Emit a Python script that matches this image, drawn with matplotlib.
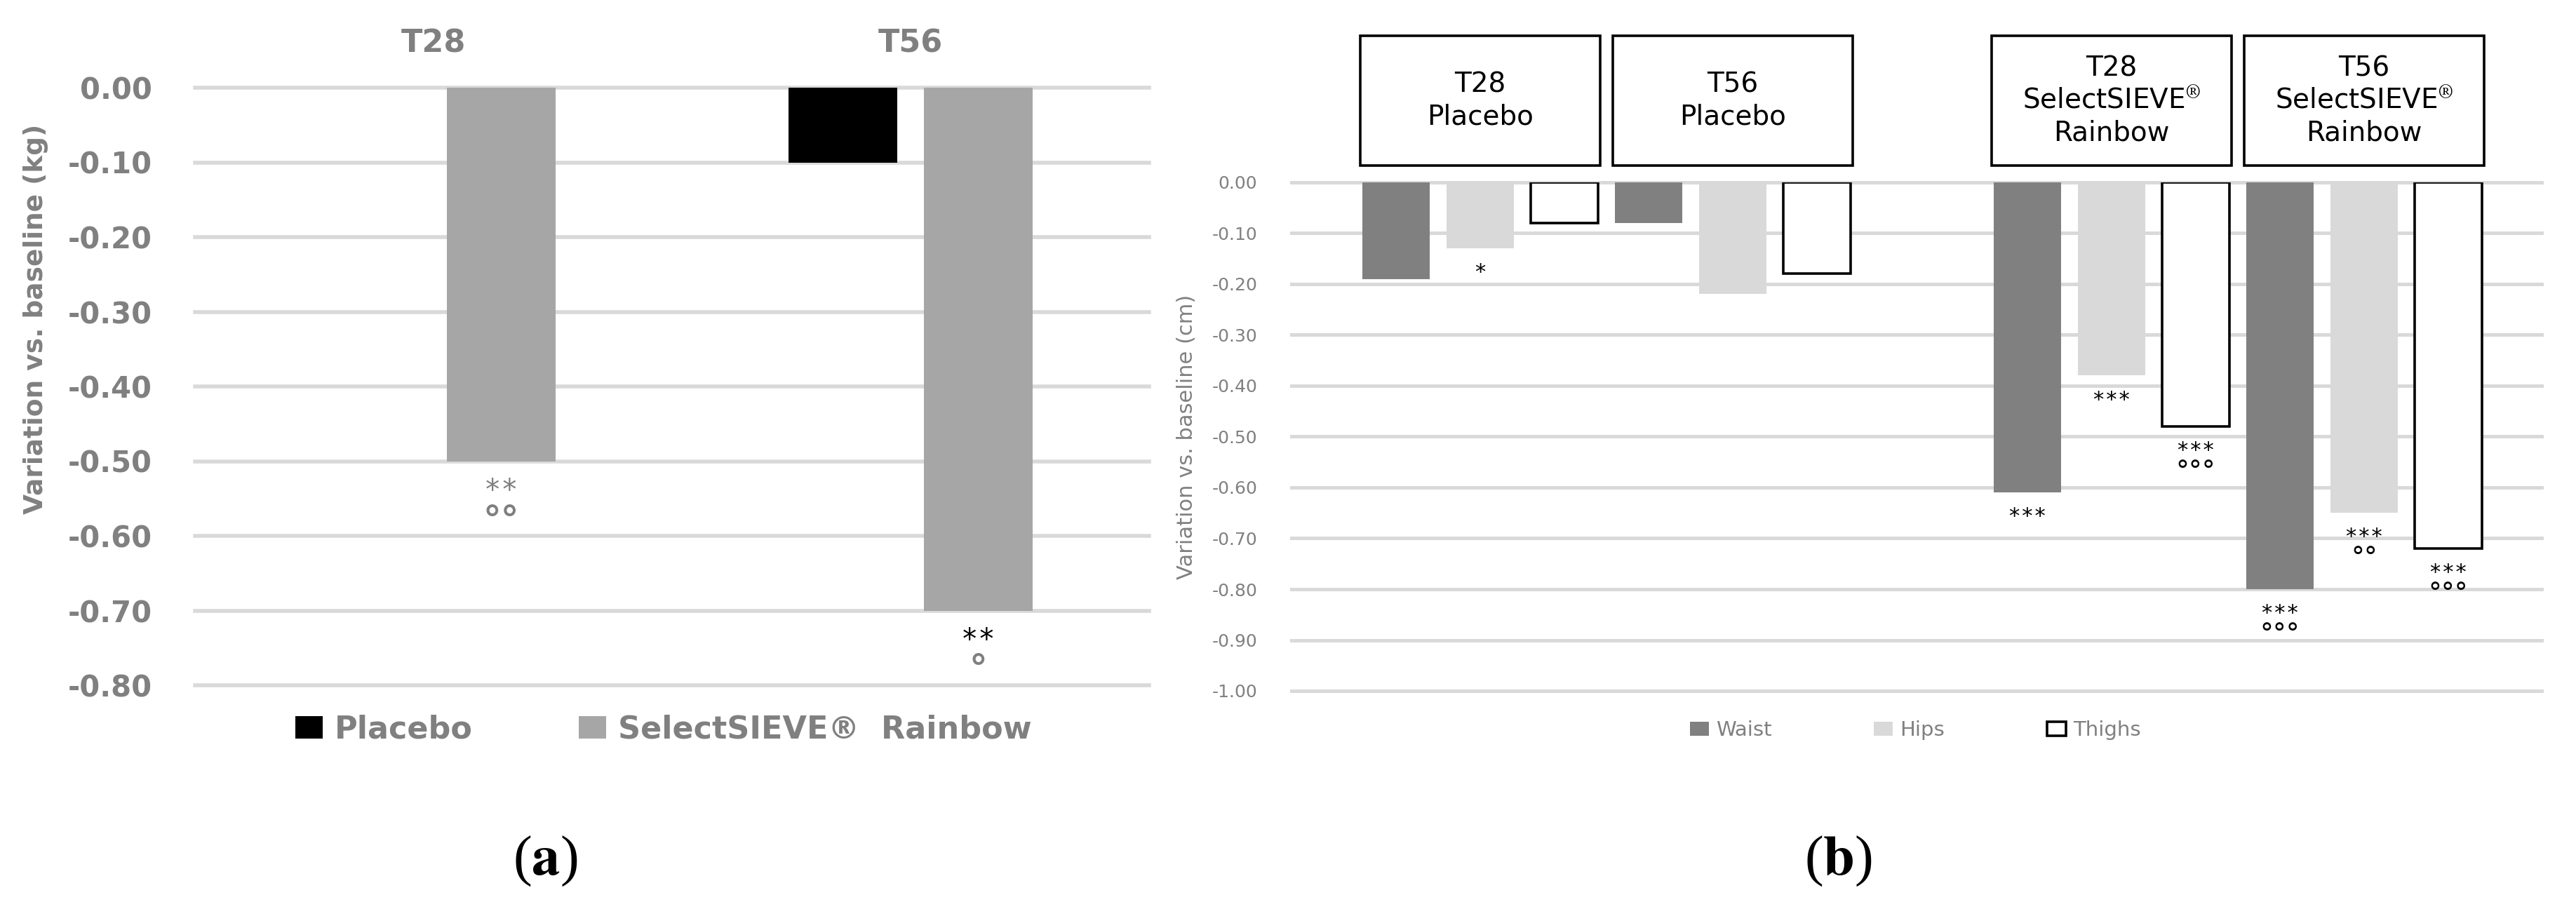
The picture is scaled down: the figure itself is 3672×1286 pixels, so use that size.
import matplotlib
matplotlib.use("Agg")
import matplotlib.pyplot as plt
import matplotlib.transforms as mtransforms
from matplotlib.patches import Rectangle

plt.rcParams["mathtext.fontset"] = "stix"

# ---------------- data: panel (a) body weight ----------------
weight_timepoints = ["T28", "T56"]
weight_placebo = [0.00, -0.10]
weight_selectsieve = [-0.50, -0.70]
weight_ss_stars = ["**", "**"]
weight_ss_star_colors = ["#7f7f7f", "#000000"]
weight_ss_degrees = ["°°", "°"]
weight_ticks = [0.00, -0.10, -0.20, -0.30, -0.40, -0.50, -0.60, -0.70, -0.80]
weight_legend = ["Placebo", "SelectSIEVE®  Rainbow"]

# ---------------- data: panel (b) circumferences ----------------
circ_groups = ["T28\nPlacebo", "T56\nPlacebo",
               "T28\nSelectSIEVE$^{\\circledR}$\nRainbow",
               "T56\nSelectSIEVE$^{\\circledR}$\nRainbow"]
circ_group_pos = [0.0, 1.0, 2.5, 3.5]
circ_series = ["Waist", "Hips", "Thighs"]
waist = [-0.19, -0.08, -0.61, -0.80]
hips = [-0.13, -0.22, -0.38, -0.65]
thighs = [-0.08, -0.18, -0.48, -0.72]
waist_stars = ["", "", "***", "***"]
hips_stars = ["*", "", "***", "***"]
thighs_stars = ["", "", "***", "***"]
waist_degrees = ["", "", "", "°°°"]
hips_degrees = ["", "", "", "°°"]
thighs_degrees = ["", "", "°°°", "°°°"]
circ_ticks = [0.00, -0.10, -0.20, -0.30, -0.40, -0.50, -0.60, -0.70, -0.80, -0.90, -1.00]

W, H = 3672, 1286
fig = plt.figure(figsize=(W / 100, H / 100), dpi=100)
GRAY = "#808080"
GRID = "#d9d9d9"
HS = "\u200a"

# ================= panel (a) =================
ax1 = fig.add_axes([278 / W, 1 - 977 / H, 1360 / W, 852 / H])
x1 = list(range(len(weight_timepoints)))
bw1, off1 = 0.228, 0.142
bp = ax1.bar([x - off1 for x in x1], weight_placebo, bw1, color="#000000", zorder=2)
bs = ax1.bar([x + off1 for x in x1], weight_selectsieve, bw1, color="#a6a6a6", zorder=2)
for t in weight_ticks:
    ax1.axhline(t, color=GRID, lw=4.0, zorder=1, clip_on=False)
ax1.set_xlim(-0.5, 1.5)
ax1.set_ylim(weight_ticks[-1], weight_ticks[0])
ax1.set_yticks(weight_ticks)
ax1.set_yticklabels([f"{t:.2f}" for t in weight_ticks], fontsize=30,
                    fontweight="bold", color=GRAY)
ax1.tick_params(axis="y", length=0, pad=44)
ax1.xaxis.tick_top()
ax1.set_xticks(x1)
ax1.set_xticklabels(weight_timepoints, fontsize=32, fontweight="bold", color=GRAY)
ax1.tick_params(axis="x", length=0, pad=30)
for s in ax1.spines.values():
    s.set_visible(False)
for i, x in enumerate(x1):
    xx = x + off1
    v = weight_selectsieve[i]
    ax1.annotate(HS.join(weight_ss_stars[i]), xy=(xx, v), xytext=(0, -39),
                 textcoords="offset points", ha="center", va="baseline",
                 fontsize=29, color=weight_ss_star_colors[i])
    ax1.annotate(weight_ss_degrees[i], xy=(xx, v), xytext=(0, -72),
                 textcoords="offset points", ha="center", va="baseline",
                 fontsize=37, fontweight="bold", color="#7f7f7f")

fig.text(51 / W, 1 - 455 / H, "Variation vs. baseline (kg)", rotation=90,
         ha="center", va="center", fontsize=27, fontweight="bold", color=GRAY)
fig.legend([bp, bs], weight_legend, ncol=2, loc="center",
           bbox_to_anchor=(946 / W, 1 - 1040 / H), frameon=False,
           prop=dict(weight="bold", size=32), labelcolor=GRAY,
           handlelength=0.88, handleheight=0.72, handletextpad=0.38,
           columnspacing=3.4)

# ================= panel (b) =================
ax2 = fig.add_axes([1841 / W, 1 - 985 / H, 1782 / W, 725 / H])
bw2, off2 = 0.267, 0.333
bwa = ax2.bar([p - off2 for p in circ_group_pos], waist, bw2, color="#808080", zorder=2)
bhi = ax2.bar(circ_group_pos, hips, bw2, color="#d9d9d9", zorder=2)
bth = ax2.bar([p + off2 for p in circ_group_pos], thighs, bw2, facecolor="white",
              edgecolor="black", linewidth=2.6, zorder=3)
for t in circ_ticks:
    ax2.axhline(t, color=GRID, lw=3.6, zorder=1, clip_on=False)
ax2.set_xlim(-0.747, 4.203)
ax2.set_ylim(circ_ticks[-1], circ_ticks[0])
ax2.set_yticks(circ_ticks)
ax2.set_yticklabels([f"{t:.2f}" for t in circ_ticks], fontsize=18, color=GRAY)
ax2.tick_params(axis="y", length=0, pad=35)
ax2.set_xticks([])
for s in ax2.spines.values():
    s.set_visible(False)

blend = mtransforms.blended_transform_factory(ax2.transData, ax2.transAxes)
for p, lab in zip(circ_group_pos, circ_groups):
    ax2.add_patch(Rectangle((p - 0.475, 1.033), 0.95, 0.255, transform=blend,
                            fill=False, edgecolor="black", lw=2.6, clip_on=False))
    ax2.text(p, 1.033 + 0.1275, lab, transform=blend, ha="center", va="center",
             fontsize=28, linespacing=1.25, multialignment="center", color="black")

for offs, vals, stars, degs in [(-off2, waist, waist_stars, waist_degrees),
                                (0.0, hips, hips_stars, hips_degrees),
                                (off2, thighs, thighs_stars, thighs_degrees)]:
    for p, v, st, dg in zip(circ_group_pos, vals, stars, degs):
        if st:
            ax2.annotate(HS.join(st), xy=(p + offs, v), xytext=(0, -31),
                         textcoords="offset points", ha="center", va="baseline",
                         fontsize=22, color="black")
        if dg:
            ax2.annotate(dg, xy=(p + offs, v), xytext=(0, -54),
                         textcoords="offset points", ha="center", va="baseline",
                         fontsize=27, color="black")

fig.text(1691 / W, 1 - 623 / H, "Variation vs. baseline (cm)", rotation=90,
         ha="center", va="center", fontsize=22, color=GRAY)
fig.legend([bwa, bhi, bth], circ_series, ncol=3, loc="center",
           bbox_to_anchor=(2730 / W, 1 - 1041 / H), frameon=False,
           fontsize=21, labelcolor=GRAY, handlelength=0.93, handleheight=0.69,
           handletextpad=0.34, columnspacing=5.0)

# panel letters
fig.text(777 / W, 1 - 1228 / H, r"($\mathbf{a}$)", ha="center", va="center",
         fontsize=58, family="Liberation Serif")
fig.text(2620 / W, 1 - 1228 / H, r"($\mathbf{b}$)", ha="center", va="center",
         fontsize=58, family="Liberation Serif")

fig.savefig("out.png", dpi=100, facecolor="white")
